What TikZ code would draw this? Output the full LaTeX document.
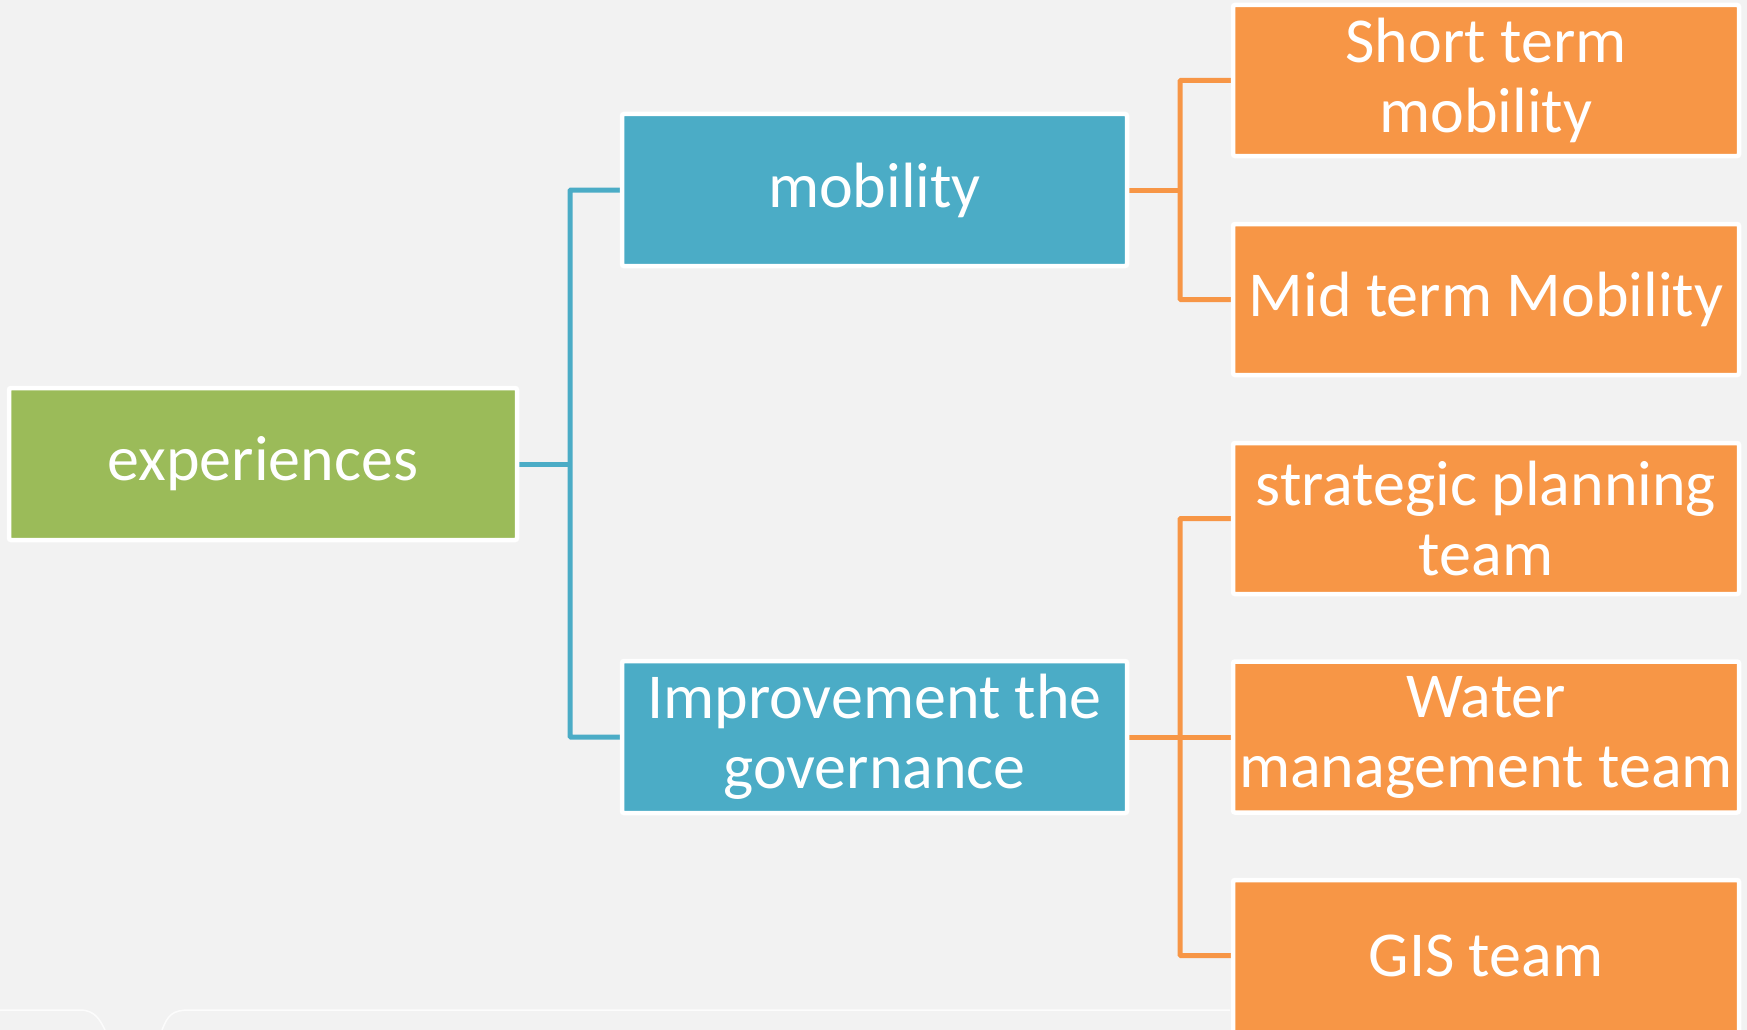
\documentclass[tikz,border=0pt]{standalone}
\usepackage{fontspec}
\setmainfont{Carlito}
\pgfdeclarelayer{bg}
\pgfsetlayers{bg,main}
\definecolor{bgc}{HTML}{F2F2F2}
\definecolor{greenc}{HTML}{9BBB59}
\definecolor{bluec}{HTML}{4BACC6}
\definecolor{orangec}{HTML}{F79646}
\tikzset{
  box/.style={draw=white, line width=4.5pt, rounded corners=2pt, text=white, align=center,
    font=\fontsize{64}{70}\selectfont, inner sep=0pt, outer sep=0pt},
  gbox/.style={box, fill=greenc, minimum width=508pt, minimum height=152pt},
  bbox/.style={box, fill=bluec, minimum width=505pt, minimum height=152pt},
  obox/.style={box, fill=orangec, minimum width=506pt, minimum height=151pt},
  bline/.style={draw=bluec, line width=5pt},
  oline/.style={draw=orangec, line width=5pt},
}
\begin{document}
\begin{tikzpicture}[x=1pt,y=-1pt]
\useasboundingbox (0,0) rectangle (1747,1030);
\clip (0,0) rectangle (1747,1030);
\node[gbox] (exp) at (263,464) {experiences};
\node[bbox] (mob) at (874.5,190) {mobility};
\node[bbox] (imp) at (874.5,737) {Improvement the\\governance};
\node[obox] (st) at (1486,80.5) {Short term\\mobility};
\node[obox] (mt) at (1486,299.5) {Mid term Mobility};
\node[obox] (sp) at (1486,518.5) {strategic planning\\team};
\node[obox] (wm) at (1486,737) {Water\\management team};
\node[obox, minimum height=160pt] (gis) at (1486,960) {};
\node[text=white, font=\fontsize{64}{70}\selectfont] (gist) at (1486,955.5) {GIS team};
\coordinate (bj) at (570,464);
\coordinate (oj1) at (1180,190);
\coordinate (oj2) at (1180,737);
\begin{pgfonlayer}{bg}
\fill[bgc] (0,0) rectangle (1747,1030);
\draw[white, opacity=0.8, line width=1.5pt] (0,1010) -- (80,1010) .. controls (95,1010) and (100,1020) .. (105,1030);
\draw[white, opacity=0.8, line width=1.5pt] (162,1030) .. controls (168,1015) and (172,1010) .. (190,1010) -- (1230,1010);
\draw[bline] (exp.east) -- (bj);
\draw[bline, rounded corners=1pt] (mob.west) -| (bj) |- (imp.west);
\draw[oline] (mob.east) -- (oj1);
\draw[oline, rounded corners=1pt] (st.west) -| (oj1) |- (mt.west);
\draw[oline] (imp.east) -- (wm.west);
\draw[oline, rounded corners=1pt] (sp.west) -| (oj2) |- (gis.west |- gist);
\end{pgfonlayer}
\end{tikzpicture}
\end{document}
